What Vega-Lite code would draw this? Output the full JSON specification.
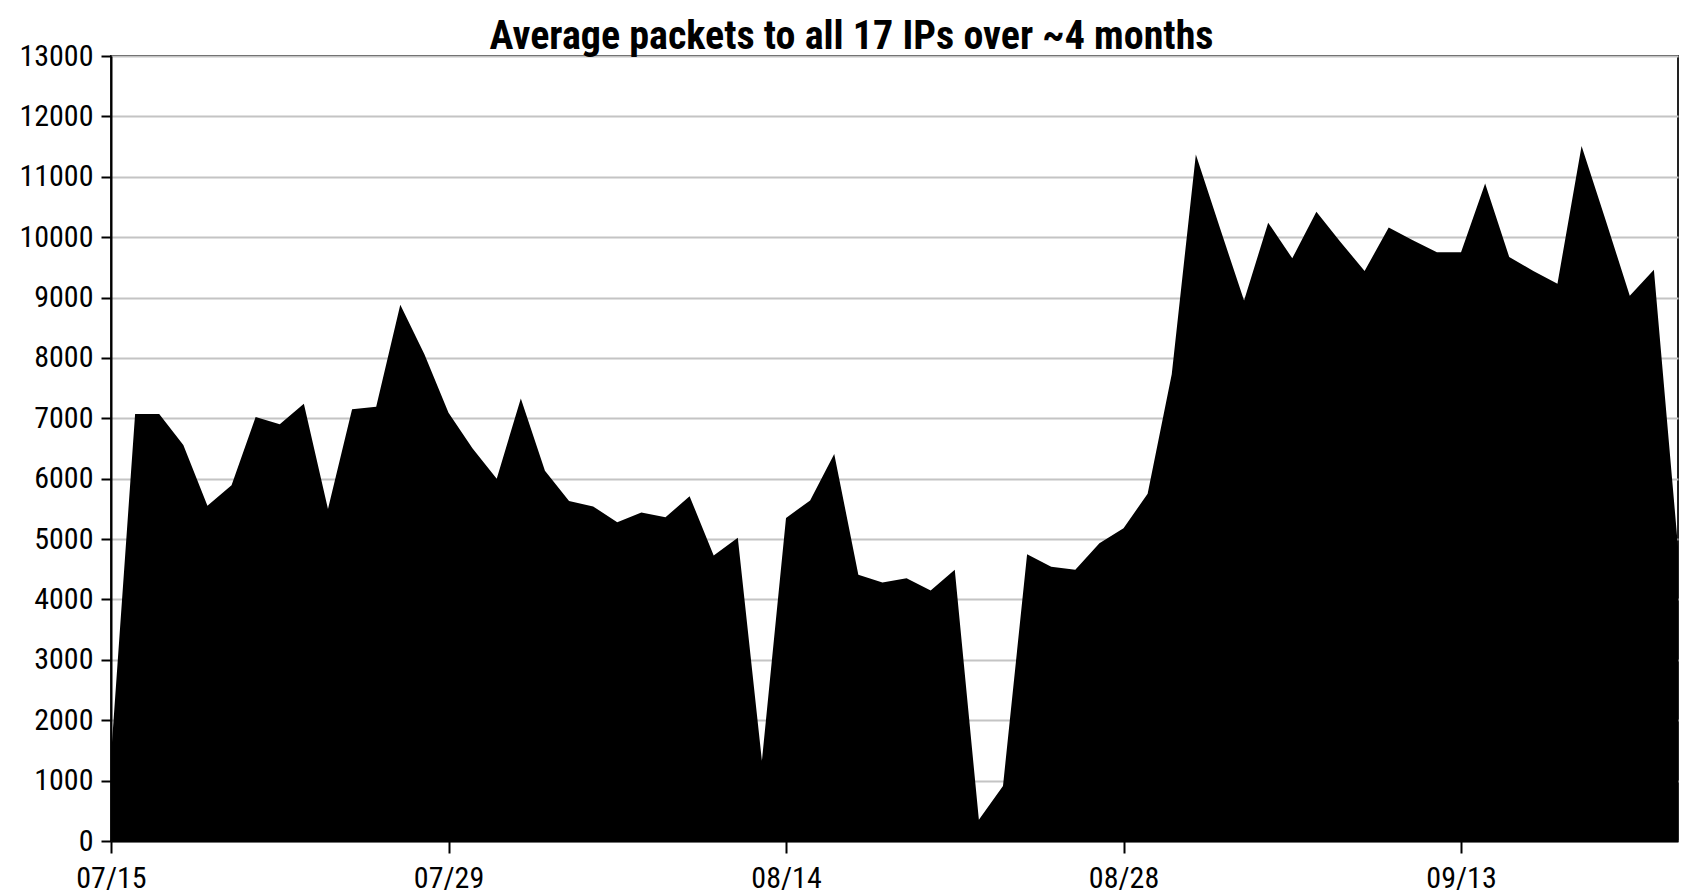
{
  "$schema": "https://vega.github.io/schema/vega-lite/v6.json",
  "width": 1567,
  "height": 785,
  "autosize": "none",
  "padding": {"left": 111, "top": 56, "right": 16, "bottom": 52},
  "background": "white",
  "title": {
    "text": "Average packets to all 17 IPs over ~4 months",
    "font": "Roboto Condensed, DejaVu Sans Condensed, sans-serif",
    "fontSize": 40,
    "fontWeight": "bold",
    "color": "black",
    "anchor": "middle",
    "frame": "group",
    "dx": -43,
    "offset": -16
  },
  "data": {
    "values": [
      {"i": 0, "packets": 1400},
      {"i": 1, "packets": 7070},
      {"i": 2, "packets": 7070},
      {"i": 3, "packets": 6560},
      {"i": 4, "packets": 5550},
      {"i": 5, "packets": 5890},
      {"i": 6, "packets": 7020},
      {"i": 7, "packets": 6900},
      {"i": 8, "packets": 7240},
      {"i": 9, "packets": 5500},
      {"i": 10, "packets": 7150},
      {"i": 11, "packets": 7190},
      {"i": 12, "packets": 8880},
      {"i": 13, "packets": 8060},
      {"i": 14, "packets": 7090},
      {"i": 15, "packets": 6500},
      {"i": 16, "packets": 6000},
      {"i": 17, "packets": 7330},
      {"i": 18, "packets": 6130},
      {"i": 19, "packets": 5630},
      {"i": 20, "packets": 5540},
      {"i": 21, "packets": 5280},
      {"i": 22, "packets": 5440},
      {"i": 23, "packets": 5360},
      {"i": 24, "packets": 5710},
      {"i": 25, "packets": 4730},
      {"i": 26, "packets": 5020},
      {"i": 27, "packets": 1330},
      {"i": 28, "packets": 5350},
      {"i": 29, "packets": 5640},
      {"i": 30, "packets": 6410},
      {"i": 31, "packets": 4410},
      {"i": 32, "packets": 4280},
      {"i": 33, "packets": 4350},
      {"i": 34, "packets": 4150},
      {"i": 35, "packets": 4490},
      {"i": 36, "packets": 350},
      {"i": 37, "packets": 910},
      {"i": 38, "packets": 4750},
      {"i": 39, "packets": 4540},
      {"i": 40, "packets": 4490},
      {"i": 41, "packets": 4930},
      {"i": 42, "packets": 5180},
      {"i": 43, "packets": 5750},
      {"i": 44, "packets": 7730},
      {"i": 45, "packets": 11370},
      {"i": 46, "packets": 10150},
      {"i": 47, "packets": 8950},
      {"i": 48, "packets": 10240},
      {"i": 49, "packets": 9650},
      {"i": 50, "packets": 10420},
      {"i": 51, "packets": 9920},
      {"i": 52, "packets": 9440},
      {"i": 53, "packets": 10160},
      {"i": 54, "packets": 9950},
      {"i": 55, "packets": 9750},
      {"i": 56, "packets": 9750},
      {"i": 57, "packets": 10890},
      {"i": 58, "packets": 9670},
      {"i": 59, "packets": 9440},
      {"i": 60, "packets": 9230},
      {"i": 61, "packets": 11510},
      {"i": 62, "packets": 10280},
      {"i": 63, "packets": 9030},
      {"i": 64, "packets": 9460},
      {"i": 65, "packets": 4870}
    ]
  },
  "mark": {"type": "area", "color": "black", "interpolate": "linear"},
  "encoding": {
    "x": {
      "field": "i",
      "type": "quantitative",
      "scale": {"domain": [0, 65], "nice": false, "zero": false},
      "axis": {
        "values": [0, 14, 28, 42, 56],
        "labelExpr": "datum.value == 0 ? '07/15' : datum.value == 14 ? '07/29' : datum.value == 28 ? '08/14' : datum.value == 42 ? '08/28' : '09/13'",
        "title": null,
        "grid": false,
        "tickSize": 12,
        "tickColor": "black",
        "tickWidth": 2,
        "domainColor": "black",
        "domainWidth": 2,
        "labelFont": "Roboto Condensed, DejaVu Sans Condensed, sans-serif",
        "labelFontSize": 30,
        "labelColor": "black",
        "labelPadding": 10,
        "labelFlush": false,
        "labelOverlap": false
      }
    },
    "y": {
      "field": "packets",
      "type": "quantitative",
      "scale": {"domain": [0, 13000], "nice": false},
      "axis": {
        "values": [0, 1000, 2000, 3000, 4000, 5000, 6000, 7000, 8000, 9000, 10000, 11000, 12000, 13000],
        "format": "d",
        "title": null,
        "grid": true,
        "gridColor": "#c4c4c4",
        "gridWidth": 2,
        "tickSize": 10,
        "tickColor": "black",
        "tickWidth": 2,
        "domainColor": "black",
        "domainWidth": 2,
        "labelFont": "Roboto Condensed, DejaVu Sans Condensed, sans-serif",
        "labelFontSize": 30,
        "labelColor": "black",
        "labelPadding": 8,
        "labelOverlap": false
      }
    }
  },
  "config": {
    "view": {"stroke": "#222", "strokeWidth": 2}
  }
}
